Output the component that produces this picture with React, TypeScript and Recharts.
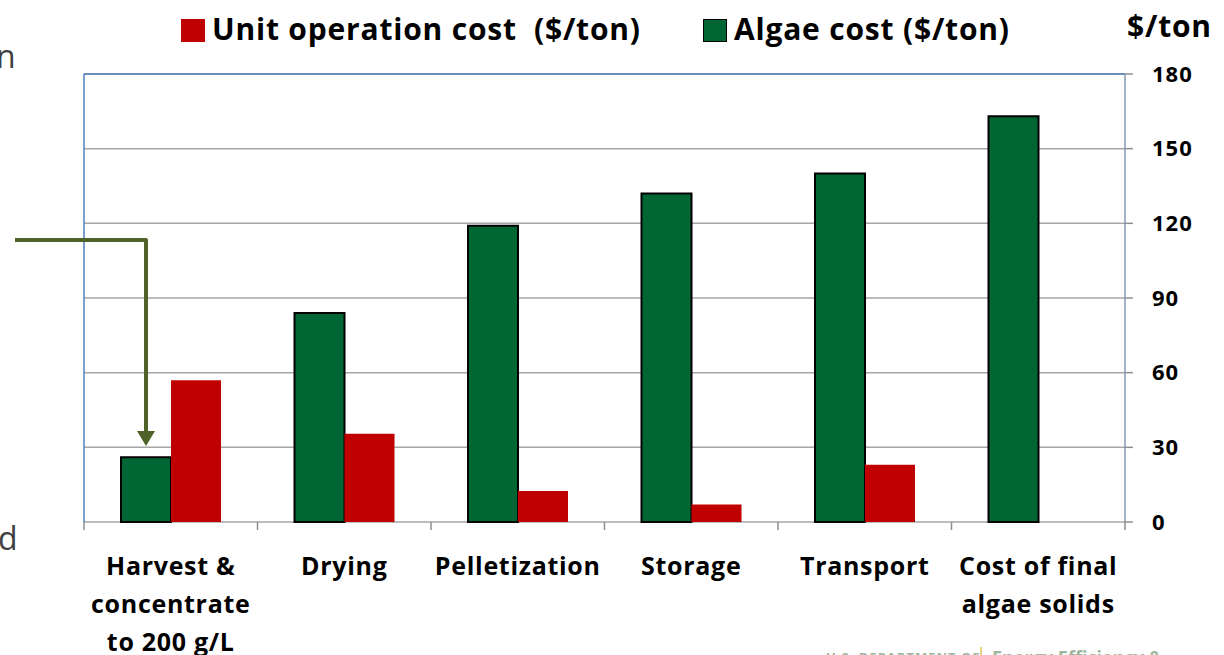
import React from 'react';
import { BarChart, Bar, XAxis, YAxis, CartesianGrid, ReferenceLine } from 'recharts';

const categories = ['Harvest &\nconcentrate\nto 200 g/L', 'Drying', 'Pelletization', 'Storage', 'Transport', 'Cost of final\nalgae solids'];
const algaeCost = [26, 84, 119, 132, 140, 163];
const unitOpCost: (number | null)[] = [57, 35.5, 12.5, 7, 23, null];
const yTicks = [0, 30, 60, 90, 120, 150, 180];

const data = categories.map((name, i) => ({ name, algae: algaeCost[i], unit: unitOpCost[i] }));

const FONT = '"Open Sans", Lato, sans-serif';

// category label plus the boundary tick marks between categories
const CategoryTick = (props: any) => {
  const { x, y, payload, index, visibleTicksCount } = props;
  const half = payload.offset || 0;
  const lines = String(payload.value).split('\n');
  const last = index === visibleTicksCount - 1;
  return (
    <g>
      <line x1={x - half} x2={x - half} y1={y} y2={y + 8} stroke="#8e8e8e" strokeWidth={1.5} />
      {last && <line x1={x + half} x2={x + half} y1={y} y2={y + 8} stroke="#8e8e8e" strokeWidth={1.5} />}
      <text x={x} y={y} textAnchor="middle" fontFamily={FONT} fontWeight={700} fontSize={25} letterSpacing={0.7} fill="#000">
        {lines.map((l, i) => (
          <tspan key={i} x={x} dy={i === 0 ? 53 : 38}>{l}</tspan>
        ))}
      </text>
    </g>
  );
};

const App: React.FC = () => {
  return (
    <div style={{ position: 'absolute', left: 0, top: 0, width: 1224, height: 655, overflow: 'hidden', background: '#fff', fontFamily: FONT }}>
      {/* cut-off slide text at the left edge */}
      <div style={{ position: 'absolute', left: -4, top: 34, fontSize: 32, color: '#404040' }}>n</div>
      <div style={{ position: 'absolute', left: -2, top: 516, fontSize: 32, color: '#404040' }}>d</div>

      {/* legend */}
      <div style={{ position: 'absolute', left: 181, top: 19, width: 24, height: 23, background: '#c00000' }} />
      <div style={{ position: 'absolute', left: 212, top: 9, fontSize: 30, letterSpacing: 0.8, fontWeight: 700, color: '#000', whiteSpace: 'pre', lineHeight: '40px' }}>Unit operation cost  ($/ton)</div>
      <div style={{ position: 'absolute', left: 703, top: 19, width: 24, height: 23, background: '#006633', border: '1px solid #000', boxSizing: 'border-box' }} />
      <div style={{ position: 'absolute', left: 734, top: 9, fontSize: 30, letterSpacing: 0.8, fontWeight: 700, color: '#000', whiteSpace: 'pre', lineHeight: '40px' }}>Algae cost ($/ton)</div>
      <div style={{ position: 'absolute', left: 1127, top: 6, fontSize: 30, letterSpacing: 0.8, fontWeight: 700, color: '#000', lineHeight: '40px' }}>$/ton</div>

      <BarChart
        width={1224}
        height={655}
        data={data}
        margin={{ top: 74, right: 29, left: 84, bottom: 33 }}
        barGap={0}
        barSize={50}
      >
        <CartesianGrid vertical={false} stroke="#a6a6a6" strokeWidth={1.5} yAxisId="r" />
        <XAxis
          xAxisId="edge"
          type="number"
          domain={[0, 6]}
          tick={false}
          tickLine={false}
          height={0}
          axisLine={{ stroke: '#8e8e8e', strokeWidth: 1.5 }}
        />
        <XAxis
          xAxisId="cat"
          dataKey="name"
          axisLine={false}
          tickLine={false}
          tickSize={0}
          tickMargin={0}
          interval={0}
          height={100}
          tick={<CategoryTick />}
        />
        <YAxis
          yAxisId="r"
          orientation="right"
          width={70}
          domain={[0, 180]}
          ticks={yTicks}
          tickSize={8}
          tickMargin={19}
          axisLine={{ stroke: '#8497b0', strokeWidth: 1.5 }}
          tickLine={{ stroke: '#8e8e8e', strokeWidth: 1.5 }}
          tick={{ fill: '#000', fontSize: 22, letterSpacing: 1, fontWeight: 700, fontFamily: FONT, textAnchor: 'start' }}
        />
        <ReferenceLine yAxisId="r" xAxisId="cat" y={180} stroke="#4f81bd" strokeWidth={1.5} />
        <ReferenceLine yAxisId="r" xAxisId="edge" x={0} stroke="#4f81bd" strokeWidth={1.5} />
        <Bar xAxisId="cat" yAxisId="r" dataKey="algae" name="Algae cost ($/ton)" fill="#006633" stroke="#000" strokeWidth={2} isAnimationActive={false} />
        <Bar xAxisId="cat" yAxisId="r" dataKey="unit" name="Unit operation cost ($/ton)" fill="#c00000" isAnimationActive={false} />
      </BarChart>

      {/* annotation arrow */}
      <svg width={1224} height={655} style={{ position: 'absolute', left: 0, top: 0, pointerEvents: 'none' }}>
        <polyline points="15,240 146,240 146,432" fill="none" stroke="#4f6228" strokeWidth={4} strokeLinejoin="round" />
        <polygon points="137,431 155,431 146,446" fill="#4f6228" />
      </svg>

      {/* faint footer logo text, cut off */}
      <div style={{ position: 'absolute', left: 826, top: 648, fontSize: 13, fontWeight: 700, color: '#9fb59f', letterSpacing: 1, whiteSpace: 'pre' }}>U.S. DEPARTMENT OF</div>
      <div style={{ position: 'absolute', left: 980, top: 647, width: 2, height: 20, background: '#e8d27a' }} />
      <div style={{ position: 'absolute', left: 992, top: 645, fontSize: 18, fontWeight: 700, color: '#9fb59f', whiteSpace: 'pre' }}>Energy Efficiency &</div>
    </div>
  );
};

export default App;
